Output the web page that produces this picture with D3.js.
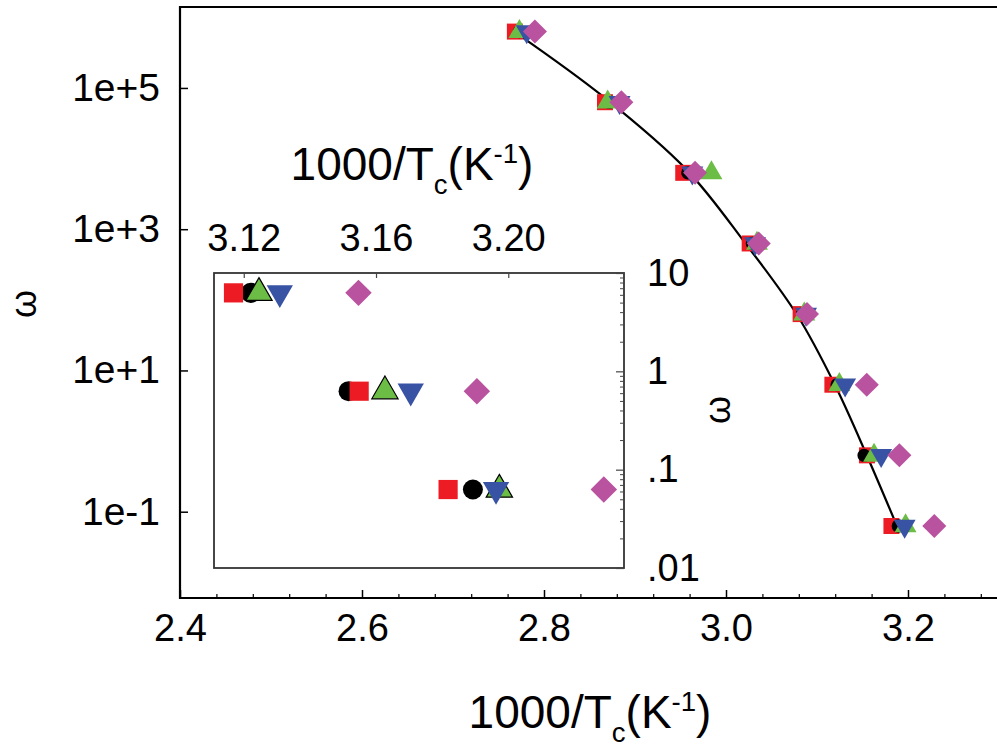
<!DOCTYPE html>
<html>
<head>
<meta charset="utf-8">
<script src="https://cdn.jsdelivr.net/npm/d3@7"></script>
<style>
html,body{margin:0;padding:0;background:#fff;}
svg{display:block;font-family:"Liberation Sans",Arial,sans-serif;}
</style>
</head>
<body>
<svg id="chart" width="997" height="748"></svg>
<script>
// ---- data ----
const omegaLevels = [628000, 62800, 6280, 628, 62.8, 6.28, 0.628, 0.0628];
const xRed     = [2.768, 2.867, 2.953, 3.026, 3.082, 3.1169, 3.1549, 3.1818];
const xBlack   = [2.773, 2.872, 2.958, 3.029, 3.084, 3.1221, 3.1517, 3.1893];
const xGreen   = [2.773, 2.870, 2.984, 3.034, 3.086, 3.1246, 3.1627, 3.1973];
const xBlue    = [2.781, 2.883, 2.963, 3.032, 3.088, 3.1309, 3.1705, 3.1963];
const xMagenta = [2.790, 2.885, 2.966, 3.036, 3.089, 3.1547, 3.1905, 3.2289];
const fitX = [2.7700, 2.8652, 2.9568, 3.0209, 3.0780, 3.1196, 3.1549, 3.1868];
const fitW = [594000, 75300, 6920, 641, 61.4, 6.27, 0.621, 0.0676];
const mainXTicks = [2.4, 2.6, 2.8, 3.0, 3.2];
const mainXTickLabels = ["2.4", "2.6", "2.8", "3.0", "3.2"];
const mainYTicks = [0.1, 10, 1000, 100000];
const mainYTickLabels = ["1e-1", "1e+1", "1e+3", "1e+5"];
const insetXTicks = [3.12, 3.16, 3.20];
const insetXTickLabels = ["3.12", "3.16", "3.20"];
const insetYTicks = [0.01, 0.1, 1, 10];
const insetYTickLabels = [".01", ".1", "1", "10"];

const series = [
  {name: "square",  xs: xRed,     color: "#ED1C24", shape: "square"},
  {name: "circle",  xs: xBlack,   color: "#000000", shape: "circle"},
  {name: "up",      xs: xGreen,   color: "#6CBD45", shape: "up"},
  {name: "down",    xs: xBlue,    color: "#3953A4", shape: "down"},
  {name: "diamond", xs: xMagenta, color: "#B9529F", shape: "diamond"}
];

const svg = d3.select("#chart");
const FONT = "Liberation Sans, Arial, sans-serif";

// ---- scales ----
const xMain = d3.scaleLinear().domain([2.4, 3.3]).range([180, 999]);
const yMain = d3.scaleLog().domain([0.006, 1.4e6]).range([598, 7]);
const xIn = d3.scaleLinear().domain([3.111, 3.235]).range([214, 624]);
const yIn = d3.scaleLog().domain([0.01, 10]).range([568, 273]);

function symPath(shape, k) {
  if (shape === "square") return d3.symbol(d3.symbolSquare, (16*k)*(16*k))();
  if (shape === "circle") return d3.symbol(d3.symbolCircle, Math.PI*(7*k)*(7*k))();
  if (shape === "up" || shape === "down") {
    const h = 19*k, y = h/3;
    return d3.symbol(d3.symbolTriangle, y*y*3*Math.sqrt(3))();
  }
  if (shape === "diamond") return d3.symbol(d3.symbolSquare, (17*k)*(17*k))();
}
function symRot(shape) {
  if (shape === "down") return 180;
  if (shape === "diamond") return 45;
  return 0;
}

// ---- main frame ----
const gMain = svg.append("g");
gMain.append("path")
  .attr("d", `M999,${yMain.range()[1]}H${xMain.range()[0]}V${yMain.range()[0]}H999`)
  .attr("fill", "none").attr("stroke", "#000").attr("stroke-width", 2.2);

// main x axis (inward ticks)
const xAxisMain = d3.axisBottom(xMain).tickValues(mainXTicks).tickSize(-8)
  .tickFormat((d, i) => mainXTickLabels[i]).tickPadding(16);
const gx = gMain.append("g").attr("transform", "translate(0,598)").call(xAxisMain);
gx.select(".domain").remove();
gx.selectAll(".tick line").attr("stroke-width", 1.5);
gx.selectAll(".tick text").attr("font-size", 38).attr("font-family", FONT).attr("fill", "#000").attr("dy", "0.72em");
const minorX = d3.range(0, 23).map(i => 2.4 + i*0.04).filter(v => !mainXTicks.some(t => Math.abs(t - v) < 1e-6));
const gxm = gMain.append("g").attr("transform", "translate(0,598)")
  .call(d3.axisBottom(xMain).tickValues(minorX).tickSize(-4).tickFormat(""));
gxm.select(".domain").remove();
gxm.selectAll(".tick line").attr("stroke-width", 1.2);

// main y axis
const yAxisMain = d3.axisLeft(yMain).tickValues(mainYTicks).tickSize(-8)
  .tickFormat((d, i) => mainYTickLabels[i]).tickPadding(20);
const gy = gMain.append("g").attr("transform", "translate(180,0)").call(yAxisMain);
gy.select(".domain").remove();
gy.selectAll(".tick line").attr("stroke-width", 1.5);
gy.selectAll(".tick text").attr("font-size", 39).attr("font-family", FONT).attr("fill", "#000");

// axis titles
function titleText(g, x, y, size) {
  const t = g.append("text").attr("x", x).attr("y", y).attr("text-anchor", "middle")
    .attr("font-size", size).attr("font-family", FONT).attr("fill", "#000");
  t.append("tspan").text("1000/T");
  t.append("tspan").attr("font-size", size*0.6).attr("dy", size*0.3).text("c");
  t.append("tspan").attr("dy", -size*0.3).text("(K");
  t.append("tspan").attr("font-size", size*0.6).attr("dy", -size*0.38).text("-1");
  t.append("tspan").attr("dy", size*0.38).text(")");
  return t;
}
titleText(svg, 590, 728, 46);
svg.append("text").attr("transform", "translate(36,304) rotate(-90)")
  .attr("text-anchor", "middle").attr("font-size", 36).attr("font-family", FONT).text("ω");

// fit line
const lineGen = d3.line().x(d => xMain(d[0])).y(d => yMain(d[1])).curve(d3.curveCatmullRom.alpha(0.5));
gMain.append("path").datum(fitX.map((x, i) => [x, fitW[i]]))
  .attr("d", lineGen).attr("fill", "none").attr("stroke", "#000").attr("stroke-width", 2.2);

// main points: order square, circle, up, down, diamond
series.forEach(s => {
  gMain.append("g").selectAll("path").data(s.xs.map((x, i) => [x, omegaLevels[i]]))
    .join("path")
    .attr("d", symPath(s.shape, s.shape === "circle" ? 0.95 : 1))
    .attr("transform", d => `translate(${xMain(d[0])},${yMain(d[1])}) rotate(${symRot(s.shape)})`)
    .attr("fill", s.color);
});

// ---- inset ----
const gIn = svg.append("g");
gIn.append("rect").attr("x", 214).attr("y", 273).attr("width", 410).attr("height", 295).attr("fill", "#fff");
svg.append("clipPath").attr("id", "insetClip").append("rect")
  .attr("x", 214).attr("y", 273).attr("width", 410).attr("height", 295);

const gInPts = gIn.append("g").attr("clip-path", "url(#insetClip)");
const insetOrder = [series[1], series[0], series[2], series[3], series[4]];
insetOrder.forEach(s => {
  gInPts.append("g").selectAll("path").data(s.xs.map((x, i) => [x, omegaLevels[i]]))
    .join("path")
    .attr("d", symPath(s.shape, s.shape === "circle" ? 1.43 : (s.shape === "diamond" ? 1.1 : 1.2)))
    .attr("transform", d => `translate(${xIn(d[0])},${yIn(d[1])}) rotate(${symRot(s.shape)})`)
    .attr("fill", s.color)
    .attr("stroke", s.shape === "up" ? "#000" : "none").attr("stroke-width", 1.2);
});

gIn.append("rect").attr("x", 214).attr("y", 273).attr("width", 410).attr("height", 295)
  .attr("fill", "none").attr("stroke", "#333").attr("stroke-width", 1.8);

// inset top axis
const gxi = gIn.append("g").attr("transform", "translate(0,273)")
  .call(d3.axisTop(xIn).tickValues(insetXTicks).tickSize(-5).tickPadding(22)
    .tickFormat((d, i) => insetXTickLabels[i]));
gxi.select(".domain").remove();
gxi.selectAll(".tick line").attr("stroke", "#444").attr("stroke-width", 1.2);
gxi.selectAll(".tick text").attr("font-size", 38).attr("font-family", FONT).attr("fill", "#000");

// inset right axis
const gyi = gIn.append("g").attr("transform", "translate(624,0)")
  .call(d3.axisRight(yIn).tickValues(insetYTicks).tickSize(-8).tickPadding(23)
    .tickFormat((d, i) => insetYTickLabels[i]));
gyi.select(".domain").remove();
gyi.selectAll(".tick line").attr("stroke", "#444").attr("stroke-width", 1.2);
gyi.selectAll(".tick text").attr("font-size", 38).attr("font-family", FONT).attr("fill", "#000");
const minorYIn = [];
[0.01, 0.1, 1].forEach(b => { for (let m = 2; m <= 9; m++) minorYIn.push(b*m); });
const gyim = gIn.append("g").attr("transform", "translate(624,0)")
  .call(d3.axisRight(yIn).tickValues(minorYIn).tickSize(-4).tickFormat(""));
gyim.select(".domain").remove();
gyim.selectAll(".tick line").attr("stroke", "#444").attr("stroke-width", 1);

titleText(svg, 412, 180, 46);
svg.append("text").attr("transform", "translate(730,410) rotate(-90)")
  .attr("text-anchor", "middle").attr("font-size", 36).attr("font-family", FONT).text("ω");
</script>
</body>
</html>
